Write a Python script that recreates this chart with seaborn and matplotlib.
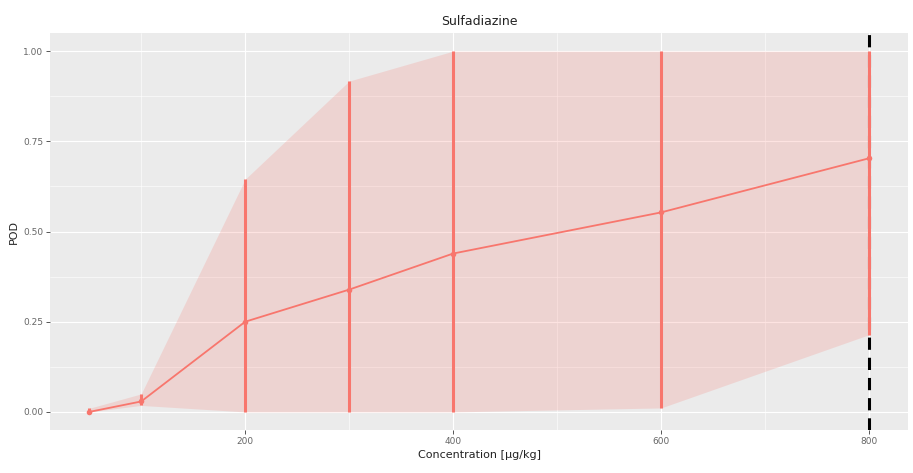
import matplotlib
matplotlib.use("Agg")
import matplotlib.pyplot as plt
import seaborn as sns
import numpy as np
import pandas as pd

# POD curve values
conc = [50, 100, 200, 300, 400, 600, 800]
pod = [0.0, 0.029, 0.25, 0.339, 0.439, 0.553, 0.703]
pod_low = [0.0, 0.018, 0.0, 0.0, 0.0, 0.011, 0.214]
pod_high = [0.01, 0.05, 0.645, 0.917, 1.0, 1.0, 1.0]
x_ticks = [200, 400, 600, 800]
y_ticks = [0.0, 0.25, 0.50, 0.75, 1.00]
cutoff = 800

red = "#F8766D"

sns.set_theme(style="darkgrid", rc={
    "axes.facecolor": "#EBEBEB",
    "grid.color": "white",
    "figure.facecolor": "white",
})
plt.rcParams["font.family"] = ["DejaVu Sans"]

df = pd.DataFrame({"conc": conc, "pod": pod, "low": pod_low, "high": pod_high})

fig = plt.figure(figsize=(9.13, 4.73), dpi=100)
ax = fig.add_axes([0.055, 0.091, 0.9395, 0.839])

ax.fill_between(df["conc"], df["low"], df["high"], color=red, alpha=0.2, lw=0, zorder=2)
ax.axvline(cutoff, color="black", ls=(0, (4, 2.6)), lw=2.2, zorder=3)
ax.vlines(df["conc"], df["low"], df["high"], color=red, lw=2.2, zorder=4)
sns.lineplot(data=df, x="conc", y="pod", color=red, lw=1.3, marker="o",
             markersize=4, markeredgewidth=0, ax=ax, zorder=5)

ax.set_xlim(12.5, 837.5)
ax.set_ylim(-0.05, 1.05)
ax.set_xticks(x_ticks)
ax.set_yticks(y_ticks)
ax.set_yticklabels([f"{v:.2f}" for v in y_ticks])
ax.set_xticks([100, 300, 500, 700], minor=True)
ax.set_yticks([0.125, 0.375, 0.625, 0.875], minor=True)
ax.grid(which="major", color="white", lw=0.8)
ax.grid(which="minor", color="white", lw=0.4)
ax.tick_params(axis="both", which="major", length=3, width=0.7, color="#555555",
               labelsize=6.5, labelcolor="#666666", pad=2, bottom=True, left=True)
ax.tick_params(which="minor", length=0)
for s in ax.spines.values():
    s.set_visible(False)

ax.set_title("Sulfadiazine", fontsize=9, color="#222222", pad=6)
ax.set_xlabel("Concentration [µg/kg]", fontsize=8, color="#222222", labelpad=3)
ax.set_ylabel("POD", fontsize=8, color="#222222", labelpad=3)

fig.savefig("out.png", dpi=100)
